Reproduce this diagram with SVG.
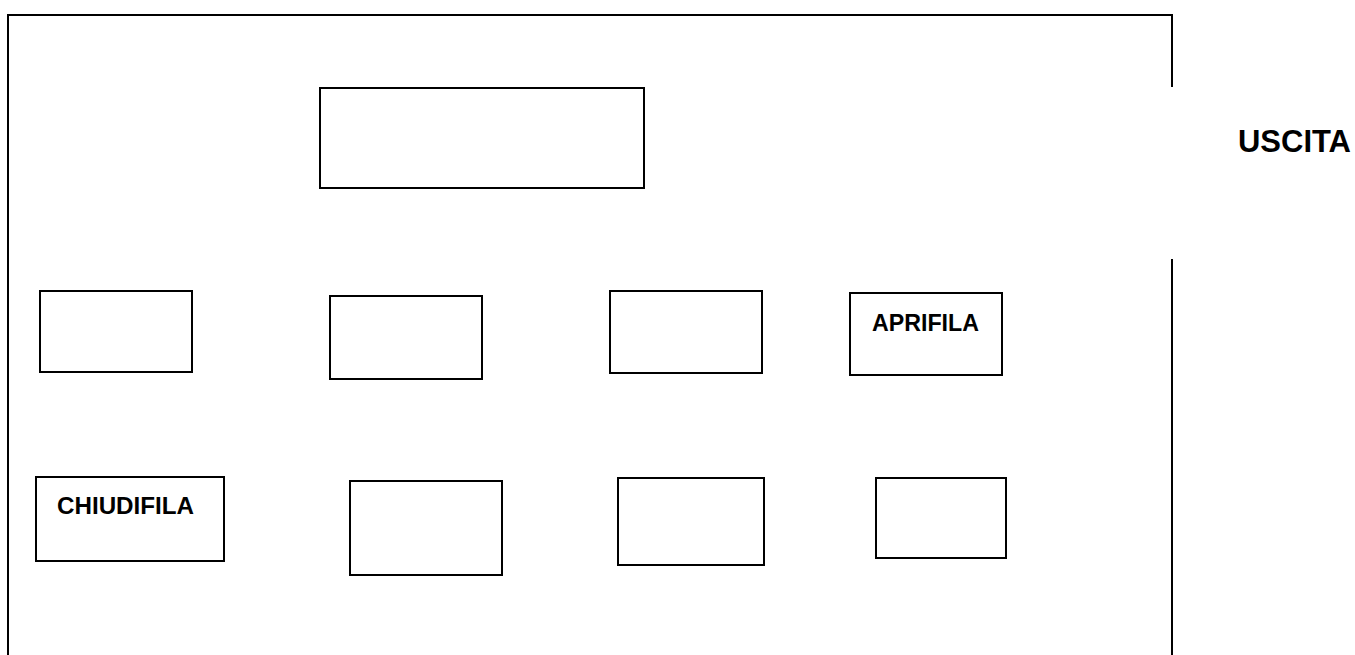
<svg xmlns="http://www.w3.org/2000/svg" width="1355" height="655" viewBox="0 0 1355 655">
<style>
.b{fill:#fff;stroke:#000;stroke-width:2}
.w{fill:none;stroke:#000;stroke-width:2}
.t{font-family:"Liberation Sans",Arial,sans-serif;font-weight:bold;fill:#000}
</style>
<rect width="1355" height="655" fill="#fff"/>
<g id="walls">
<path class="w" d="M8,655 L8,15 L1172,15 L1172,87"/>
<path class="w" d="M1172,259 L1172,655"/>
</g>
<g id="top"><rect class="b" x="320" y="88" width="324" height="100"/></g>
<g id="r1a"><rect class="b" x="40" y="291" width="152" height="81"/></g>
<g id="r1b"><rect class="b" x="330" y="296" width="152" height="83"/></g>
<g id="r1c"><rect class="b" x="610" y="291" width="152" height="82"/></g>
<g id="aprifila"><rect class="b" x="850" y="293" width="152" height="82"/>
<text class="t" x="872" y="331" font-size="24" textLength="107" lengthAdjust="spacingAndGlyphs">APRIFILA</text></g>
<g id="chiudifila"><rect class="b" x="36" y="477" width="188" height="84"/>
<text class="t" x="57" y="514" font-size="24" textLength="137" lengthAdjust="spacingAndGlyphs">CHIUDIFILA</text></g>
<g id="r2b"><rect class="b" x="350" y="481" width="152" height="94"/></g>
<g id="r2c"><rect class="b" x="618" y="478" width="146" height="87"/></g>
<g id="r2d"><rect class="b" x="876" y="478" width="130" height="80"/></g>
<g id="uscita"><text class="t" x="1238" y="152" font-size="31" textLength="113" lengthAdjust="spacingAndGlyphs">USCITA</text></g>
<g id="connectors"></g>
</svg>
